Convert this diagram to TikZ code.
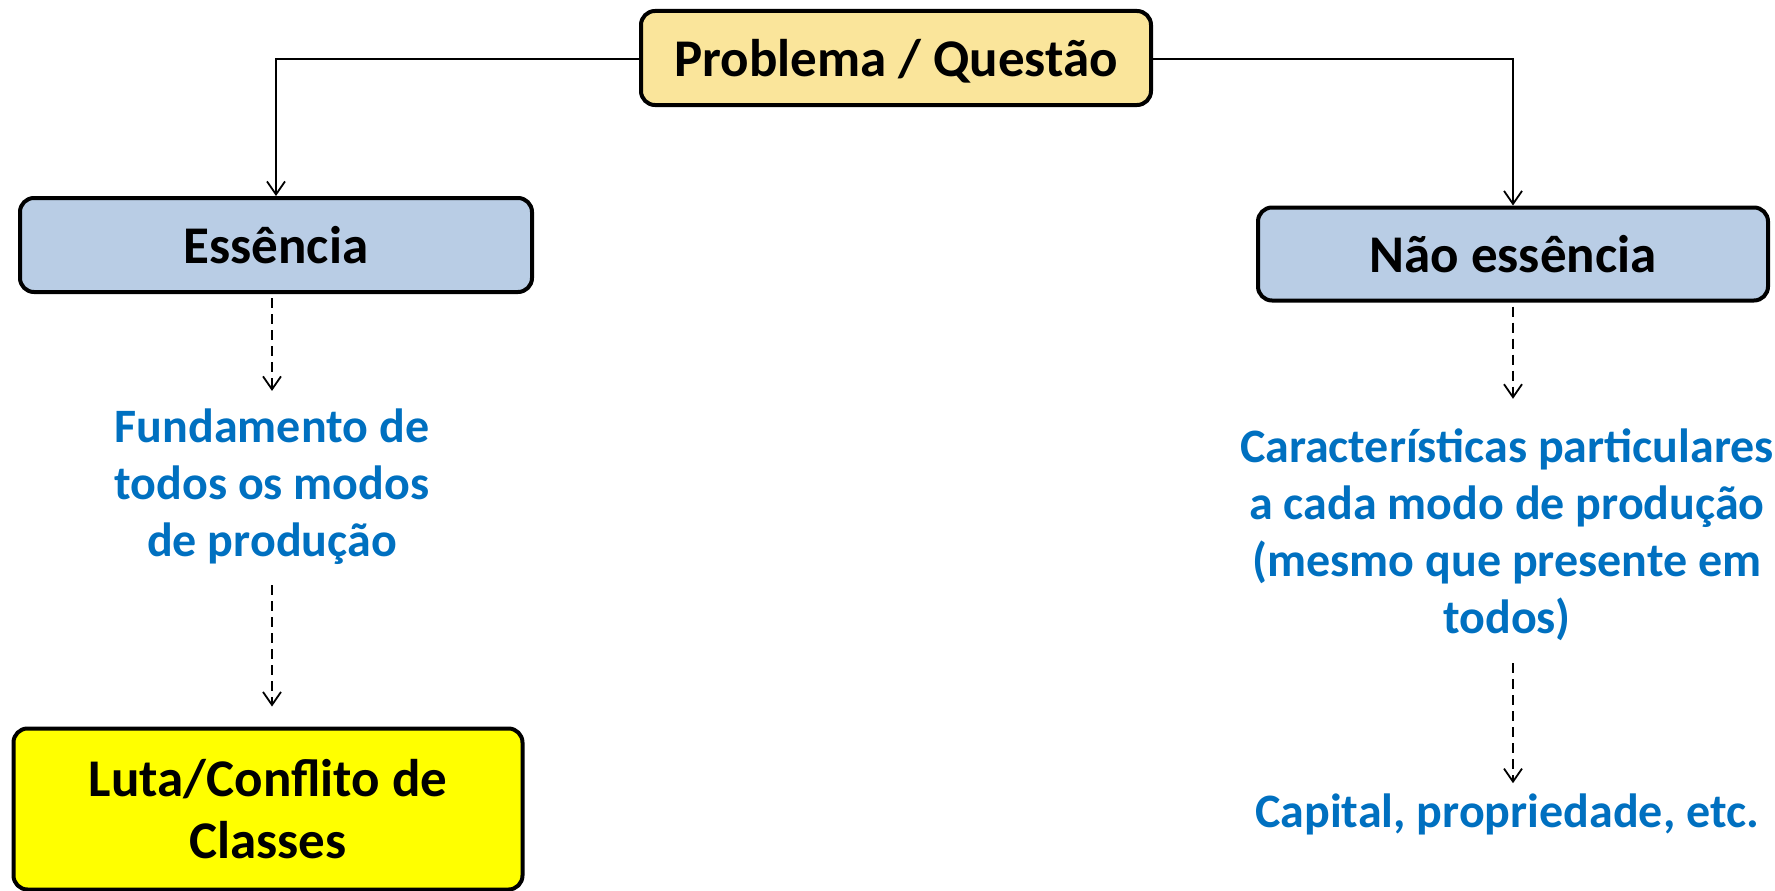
\documentclass[tikz,border=0pt]{standalone}
\usepackage{fontspec}
\setmainfont{Carlito}
\usetikzlibrary{arrows.meta}
\definecolor{topfill}{RGB}{250,229,155}
\definecolor{boxblue}{RGB}{185,205,229}
\definecolor{txtblue}{RGB}{0,112,192}
\definecolor{yel}{RGB}{255,255,0}
\tikzset{
  box/.style={draw=black, line width=4pt, rounded corners=14pt, align=center, inner sep=0pt, font=\fontsize{53}{62}\selectfont\bfseries},
  bluetext/.style={text=txtblue, align=center, inner sep=0pt, font=\fontsize{48}{57}\selectfont\bfseries},
  solidarrow/.style={draw=black, line width=1.8pt, -{Straight Barb[length=13pt,width=18pt,line width=1.8pt]}},
  dasharrow/.style={draw=black, line width=2.2pt, dash pattern=on 10pt off 6pt, -{Straight Barb[length=13pt,width=18pt,line width=1.8pt]}}
}
\begin{document}
\begin{tikzpicture}[x=1pt,y=-1pt]
\useasboundingbox (0,0) rectangle (1775,891);
\node[box, fill=topfill, minimum width=510pt, minimum height=94pt, text depth=0pt] (top) at (896,58) {Problema / Questão};
\node[box, fill=boxblue, minimum width=512pt, minimum height=94pt] (ess) at (276,245) {Essência};
\node[box, fill=boxblue, minimum width=510pt, minimum height=93pt] (nao) at (1513,254) {Não essência};
\node[box, fill=yel, minimum width=509pt, minimum height=161pt] (luta) at (268,809) {Luta/Conflito de\\Classes};
\node[bluetext] (fund) at (272,487) {Fundamento de\\todos os modos\\de produção};
\node[bluetext] (car) at (1507,535) {Características particulares\\a cada modo de produção\\(mesmo que presente em\\todos)};
\node[bluetext] (cap) at (1507,814) {Capital, propriedade, etc.};
\coordinate (lc) at (276,59);
\coordinate (rc) at (1513,59);
\draw[solidarrow] (top.west |- lc) -- (lc) -- (ess.north);
\draw[solidarrow] (top.east |- rc) -- (rc) -- (nao.north);
\draw[dasharrow, shorten <=4pt, shorten >=18pt] (ess.south -| fund) -- (fund.north);
\draw[dasharrow, shorten <=20pt, shorten >=20pt] (fund.south) -- (fund.south |- luta.north);
\draw[dasharrow, shorten <=4pt, shorten >=30pt] (nao.south) -- (nao.south |- car.north);
\draw[dasharrow, shorten <=22pt, shorten >=10pt] (car.south -| nao.south) -- (nao.south |- cap.north);
\end{tikzpicture}
\end{document}
